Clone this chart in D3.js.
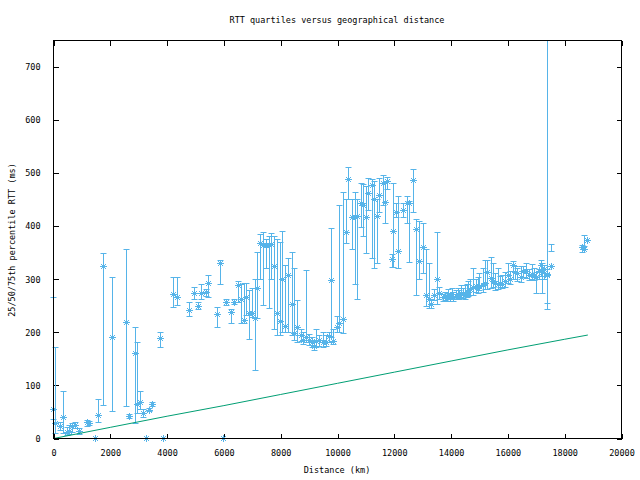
<!DOCTYPE html>
<html><head><meta charset="utf-8">
<script src="https://cdn.jsdelivr.net/npm/d3@7"></script>
<style>
body{margin:0;background:#fff;}
text{font-family:"DejaVu Sans Mono",monospace;font-size:8.5px;fill:#000;}
</style></head>
<body><svg id="c" width="640" height="480"></svg>
<script>
const distKm = [0,70,250,340,480,575,680,775,925,1185,1280,1490,1600,1770,2090,2570,2690,2900,2970,3065,3180,3290,3390,3500,3780,3885,4237,4355,4800,4975,5095,5200,5385,5470,5785,5890,6000,6090,6280,6385,6500,6620,6725,6785,6910,7000,7100,7195,7300,7400,7500,7600,7690,7780,7900,7990,8065,8180,8285,8400,8485,8600,8720,8790,8910,9025,9110,9190,9260,9375,9495,9600,9720,9790,9870,9990,10080,10200,10305,10400,10520,10630,10720,10835,10920,11010,11100,11220,11310,11400,11490,11610,11700,11770,11925,11985,12077,12158,12313,12454,12546,12686,12781,12897,13017,13123,13239,13310,13415,13510,13602,13743,13800,13862,13920,13978,14040,14095,14189,14250,14305,14365,14425,14506,14560,14623,14700,14778,14894,14950,15010,15130,15210,15292,15411,15480,15563,15679,15740,15799,15900,16031,16100,16186,16260,16348,16478,16560,16654,16750,16855,16930,17006,17100,17182,17207,17300,17383,17405,17524,18615,18697,18813];
const rttMedian = [55,29,23,40,12,14,23,25,13,31,29,0,43,324,191,219,42,160,65,67,47,0,53,64,189,0,271,265,241,274,249,274,275,293,233,330,0,256,237,257,288,261,222,265,235,235,227,283,368,364,364,364,365,324,235,221,299,211,307,252,197,209,194,185,191,185,180,173,182,185,180,180,192,298,183,210,217,224,389,489,416,417,418,442,440,416,461,477,450,418,458,480,445,485,337,391,426,353,430,443,443,487,393,334,359,269,261,252,269,299,274,266,268,266,270,265,272,266,268,271,269,274,273,269,276,276,280,285,286,283,286,288,292,313,301,296,292,290,293,290,296,307,300,326,312,310,304,315,315,308,309,305,304,315,326,312,318,309,307,325,360,357,374];
const rttQ25 = [35,10,15,9,5,8,12,18,8,22,24,0,31,62,50,60,38,28,48,55,40,0,50,60,171,0,247,250,229,261,243,261,268,266,210,290,0,250,217,252,257,216,216,232,186,228,129,226,300,250,320,245,300,205,195,195,200,200,200,195,185,180,183,178,180,176,172,165,172,174,172,173,180,191,177,200,200,197,367,450,357,291,261,397,380,348,430,340,320,329,425,440,405,470,322,323,416,321,417,405,332,426,269,299,311,249,245,245,260,252,262,258,260,259,262,258,263,259,261,264,262,265,264,262,266,268,270,270,276,274,278,276,280,280,283,285,278,280,284,282,285,292,290,300,300,296,294,304,302,298,300,298,274,300,305,273,300,243,255,352,350,362];
const rttQ75 = [266,172,30,89,20,24,28,30,18,34,32,0,73,349,304,356,46,210,181,89,55,0,57,68,199,0,303,303,257,285,256,290,280,307,246,335,0,262,244,262,296,291,292,292,279,283,299,351,385,388,375,380,386,380,375,370,390,326,340,350,320,260,206,200,316,196,190,185,205,195,200,195,200,395,205,230,440,464,450,510,450,464,450,481,478,474,490,488,485,450,490,495,483,492,347,481,442,456,443,456,447,506,412,409,405,356,330,262,280,389,285,272,276,274,280,272,282,275,278,282,278,288,282,288,290,296,300,320,300,304,310,320,335,335,342,330,310,320,305,308,312,330,315,334,325,320,325,325,330,318,328,320,313,318,335,330,326,318,1000,366,364,382];

const lineDist = [0,2000,4000,6000,8000,10000,12000,14000,16000,18000,18815];
const lineRtt = [0,21,42,62,83,104,125,146,167,187,195];

const xTicks = [0,2000,4000,6000,8000,10000,12000,14000,16000,18000,20000];
const yTicks = [0,100,200,300,400,500,600,700];

const L=53.5,R=621.5,T=40.5,B=438.5;
const svg = d3.select("#c");
const x = d3.scaleLinear().domain([0,20000]).range([L,R]);
const y = d3.scaleLinear().domain([0,750]).range([B,T]);
const px = v => Math.floor(v)+0.5;

svg.append("defs").append("clipPath").attr("id","clip")
  .append("rect").attr("x",L-6).attr("y",T).attr("width",R-L+12).attr("height",B-T+6);

function styleAxis(g){
  g.select(".domain").remove();
  g.selectAll("line").attr("stroke","#000").attr("shape-rendering","crispEdges");
  g.selectAll("text").attr("font-family","DejaVu Sans Mono, monospace").attr("font-size","8.5px").attr("fill","#000");
}
svg.append("g").attr("transform",`translate(0,${B})`)
  .call(d3.axisBottom(x).tickValues(xTicks).tickFormat(d3.format("d")).tickSize(-5).tickPadding(11))
  .call(styleAxis);
svg.append("g").attr("transform",`translate(0,${T})`)
  .call(d3.axisTop(x).tickValues(xTicks).tickFormat("").tickSize(-5))
  .call(styleAxis);
svg.append("g").attr("transform",`translate(${L},0)`)
  .call(d3.axisLeft(y).tickValues(yTicks).tickFormat(d3.format("d")).tickSize(-5).tickPadding(13))
  .call(styleAxis);
svg.append("g").attr("transform",`translate(${R},0)`)
  .call(d3.axisRight(y).tickValues(yTicks).tickFormat("").tickSize(-5))
  .call(styleAxis);

const plot = svg.append("g").attr("clip-path","url(#clip)");
const blue = "#56b4e9", green = "#009e73";
const idx = d3.range(distKm.length);

// error bars
const eb = plot.append("g").attr("stroke",blue).attr("stroke-width",1).attr("fill","none");
idx.forEach(i=>{
  const xi = px(x(distKm[i]));
  const y1 = px(y(rttQ25[i])), y2 = px(y(rttQ75[i]));
  if (rttQ75[i] > rttQ25[i]) {
    eb.append("path").attr("d",`M${xi},${y1}V${y2}M${xi-3},${y1}H${xi+3}M${xi-3},${y2}H${xi+3}`);
  }
});
// stars
const st = plot.append("g").attr("stroke",blue).attr("stroke-width",1).attr("fill","none");
idx.forEach(i=>{
  const xi = px(x(distKm[i])), yi = px(y(rttMedian[i]));
  st.append("path").attr("d",`M${xi-3.5},${yi}H${xi+3.5}M${xi},${yi-3.5}V${yi+3.5}M${xi-2.5},${yi-2.5}L${xi+2.5},${yi+2.5}M${xi-2.5},${yi+2.5}L${xi+2.5},${yi-2.5}`);
});
// green line
plot.append("path").datum(d3.range(lineDist.length))
  .attr("fill","none").attr("stroke",green).attr("stroke-width",1)
  .attr("d",d3.line().x(i=>x(lineDist[i])).y(i=>y(lineRtt[i])));

// frame
svg.append("rect").attr("x",L).attr("y",T).attr("width",R-L).attr("height",B-T)
  .attr("fill","none").attr("stroke","#000").attr("shape-rendering","crispEdges");

svg.append("text").attr("x",337).attr("y",23).attr("text-anchor","middle").text("RTT quartiles versus geographical distance");
svg.append("text").attr("x",337).attr("y",473).attr("text-anchor","middle").text("Distance (km)");
svg.append("text").attr("transform","translate(15,240) rotate(-90)").attr("text-anchor","middle").text("25/50/75th percentile RTT (ms)");
</script></body></html>
